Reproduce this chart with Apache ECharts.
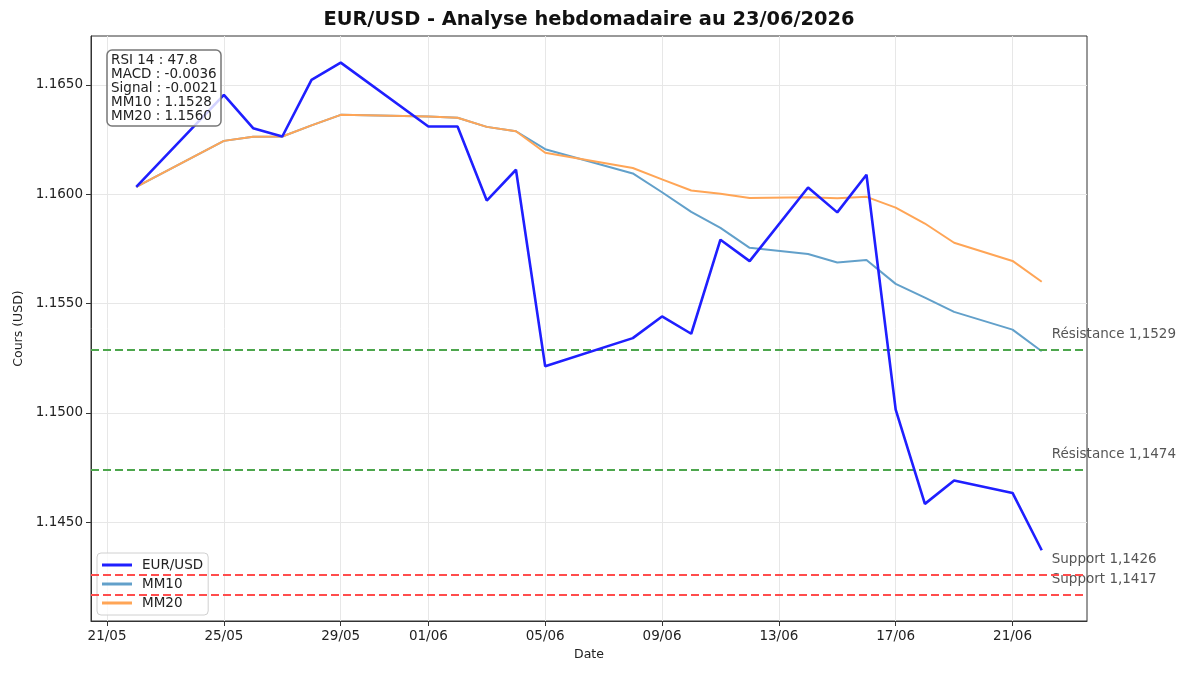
<!DOCTYPE html>
<html lang="fr">
<head>
<meta charset="utf-8">
<title>EUR/USD - Analyse hebdomadaire</title>
<script src="https://cdn.jsdelivr.net/npm/echarts@6/dist/echarts.min.js"></script>
<style>
  html, body { margin: 0; padding: 0; background: #fff; }
  #chart { width: 1200px; height: 675px; }
</style>
</head>
<body>
<div id="chart"></div>
<script>
// valeurs
const dates = [
  '2026-05-22', '2026-05-25', '2026-05-26', '2026-05-27', '2026-05-28', '2026-05-29',
  '2026-06-01', '2026-06-02', '2026-06-03', '2026-06-04', '2026-06-05',
  '2026-06-08', '2026-06-09', '2026-06-10', '2026-06-11', '2026-06-12',
  '2026-06-14', '2026-06-15', '2026-06-16', '2026-06-17', '2026-06-18', '2026-06-19',
  '2026-06-21', '2026-06-22',
]
const eurusd = [
  1.16034, 1.16454, 1.16302, 1.16264, 1.16523, 1.16602,
  1.16310, 1.16310, 1.15971, 1.16112, 1.15213,
  1.15342, 1.15441, 1.15362, 1.15792, 1.15694,
  1.16031, 1.15917, 1.16089, 1.15015, 1.14584, 1.14691,
  1.14634, 1.14372,
]
const mm10 = [
  1.16034, 1.16244, 1.16263, 1.16264, 1.16315, 1.16363,
  1.16356, 1.16350, 1.16308, 1.16288, 1.16206,
  1.16095, 1.16009, 1.15919, 1.15846, 1.15755,
  1.15727, 1.15688, 1.15699, 1.15590, 1.15527, 1.15462,
  1.15381, 1.15282,
]
const mm20 = [
  1.16034, 1.16244, 1.16263, 1.16264, 1.16315, 1.16363,
  1.16356, 1.16350, 1.16308, 1.16288, 1.16190,
  1.16120, 1.16068, 1.16017, 1.16002, 1.15983,
  1.15986, 1.15982, 1.15988, 1.15939, 1.15866, 1.15778,
  1.15695, 1.15600,
]
const resistances = [1.1529, 1.1474]
const supports = [1.1426, 1.1417]
const xTickDates = [
  '2026-05-21', '2026-05-25', '2026-05-29', '2026-06-01', '2026-06-05',
  '2026-06-09', '2026-06-13', '2026-06-17', '2026-06-21',
]
const yTicks = [1.145, 1.15, 1.155, 1.16, 1.165]
const infoLines = [
  'RSI 14 : 47.8',
  'MACD : -0.0036',
  'Signal : -0.0021',
  'MM10 : 1.1528',
  'MM20 : 1.1560',
]

const FONT = '"DejaVu Sans", sans-serif'

function ts(s) {
  const [y, m, d] = s.split('-').map(Number)
  return new Date(y, m - 1, d).getTime()
}

function fmtLevel(v) {
  return v.toFixed(4).replace('.', ',')
}

function buildOption() {
  const xs = dates.map(ts)
  const xPad = (xs[xs.length - 1] - xs[0]) * 0.05
  const allY = eurusd.concat(mm10, mm20, resistances, supports)
  const yLo = Math.min(...allY)
  const yHi = Math.max(...allY)
  const yPad = (yHi - yLo) * 0.05
  const lastX = xs[xs.length - 1]

  const levels = [
    ...resistances.map((v) => ({ name: 'Résistance ' + fmtLevel(v), value: v, color: '#4da64d' })),
    ...supports.map((v) => ({ name: 'Support ' + fmtLevel(v), value: v, color: '#ff4d4d' })),
  ]

  const pair = (arr) => arr.map((v, i) => [xs[i], v])

  return {
    backgroundColor: '#fff',
    animation: false,
    textStyle: { fontFamily: FONT },
    title: [
      {
        text: 'EUR/USD - Analyse hebdomadaire au 23/06/2026',
        left: 589,
        textAlign: 'center',
        top: 10,
        padding: 0,
        textStyle: { fontFamily: FONT, fontSize: 19.4, fontWeight: 'bold', color: '#111' },
      },
      {
        text: infoLines.join('\n'),
        left: 107,
        top: 50,
        padding: [3, 4, 3, 4],
        backgroundColor: 'rgba(255,255,255,0.8)',
        borderColor: '#777',
        borderWidth: 1.5,
        borderRadius: 5,
        textStyle: { fontFamily: FONT, fontSize: 13.5, fontWeight: 'normal', color: '#222', lineHeight: 14 },
      },
    ],
    legend: {
      orient: 'vertical',
      left: 97,
      top: 553,
      padding: [4, 5, 4, 5],
      itemGap: 3,
      itemWidth: 30,
      itemHeight: 3,
      icon: 'rect',
      backgroundColor: 'rgba(255,255,255,0.8)',
      borderColor: '#d0d0d0',
      borderWidth: 1,
      borderRadius: 4,
      data: ['EUR/USD', 'MM10', 'MM20'],
      textStyle: { fontFamily: FONT, fontSize: 13.5, color: '#222', padding: [0, 0, 0, 5], lineHeight: 16 },
    },
    grid: {
      left: 91,
      right: 113,
      top: 36,
      bottom: 54,
      show: true,
      borderColor: '#333',
      borderWidth: 1,
      backgroundColor: 'transparent',
    },
    xAxis: {
      type: 'value',
      min: xs[0] - xPad,
      max: lastX + xPad,
      name: 'Date',
      nameLocation: 'middle',
      nameGap: 25,
      nameTextStyle: { fontFamily: FONT, fontSize: 12.5, color: '#222' },
      axisLine: { show: true, onZero: false, lineStyle: { color: '#333', width: 1 } },
      axisTick: {
        show: true,
        length: 5,
        customValues: xTickDates.map(ts),
        lineStyle: { color: '#333' },
      },
      axisLabel: {
        customValues: xTickDates.map(ts),
        margin: 8,
        fontFamily: FONT,
        fontSize: 13.5,
        color: '#222',
        formatter: (v) => {
          const d = new Date(v)
          return String(d.getDate()).padStart(2, '0') + '/' + String(d.getMonth() + 1).padStart(2, '0')
        },
      },
      splitLine: { show: true, lineStyle: { color: '#e7e7e7', width: 1 } },
    },
    yAxis: {
      type: 'value',
      min: yLo - yPad,
      max: yHi + yPad,
      name: 'Cours (USD)',
      nameLocation: 'middle',
      nameGap: 62,
      nameTextStyle: { fontFamily: FONT, fontSize: 12.5, color: '#222' },
      axisLine: { show: true, onZero: false, lineStyle: { color: '#333', width: 1 } },
      axisTick: { show: true, length: 5, customValues: yTicks, lineStyle: { color: '#333' } },
      axisLabel: {
        customValues: yTicks,
        margin: 8,
        fontFamily: FONT,
        fontSize: 13.5,
        color: '#222',
        formatter: (v) => v.toFixed(4),
      },
      splitLine: { show: true, lineStyle: { color: '#e7e7e7', width: 1 } },
    },
    series: [
      {
        name: 'niveaux',
        type: 'scatter',
        symbolSize: 0,
        silent: true,
        z: 1,
        data: levels.map((l) => ({ name: l.name, value: [lastX, l.value] })),
        label: {
          show: true,
          position: 'right',
          offset: [5, -15],
          fontFamily: FONT,
          fontSize: 13.5,
          color: '#2a2a2a',
          formatter: (p) => p.name,
        },
        markLine: {
          silent: true,
          symbol: 'none',
          precision: 6,
          label: { show: false },
          data: levels.map((l) => ({
            yAxis: l.value,
            lineStyle: { color: l.color, type: [8, 4], width: 2 },
          })),
        },
      },
      {
        name: 'EUR/USD',
        type: 'line',
        data: pair(eurusd),
        showSymbol: false,
        symbol: 'none',
        z: 5,
        color: '#1f1fff',
        lineStyle: { color: '#1f1fff', width: 2.6 },
      },
      {
        name: 'MM10',
        type: 'line',
        data: pair(mm10),
        showSymbol: false,
        symbol: 'none',
        z: 3,
        color: '#62a0ca',
        lineStyle: { color: '#62a0ca', width: 2 },
      },
      {
        name: 'MM20',
        type: 'line',
        data: pair(mm20),
        showSymbol: false,
        symbol: 'none',
        z: 4,
        color: '#ffa556',
        lineStyle: { color: '#ffa556', width: 2 },
      },
    ],
  }
}

const chart = echarts.init(document.getElementById('chart'))
chart.setOption(buildOption())
</script>
</body>
</html>
